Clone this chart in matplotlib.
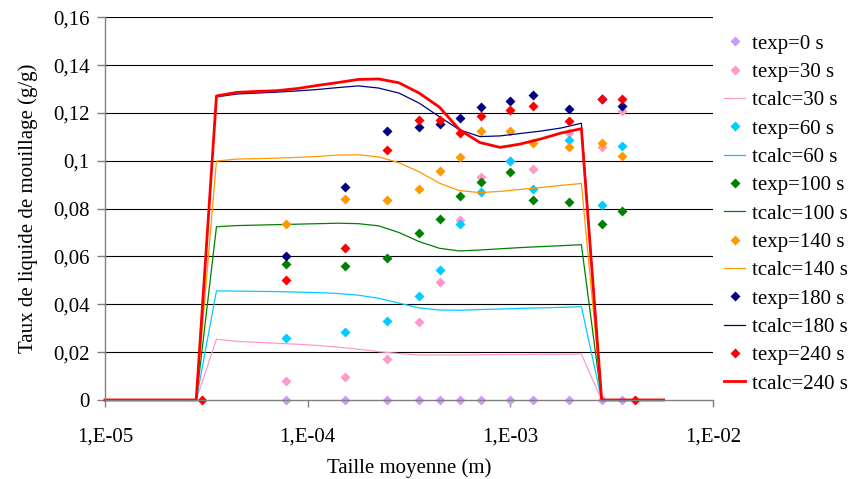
import matplotlib
matplotlib.use("Agg")
import matplotlib.pyplot as plt

plt.rcParams['font.family'] = ['Liberation Serif', 'DejaVu Serif']

# tailles mesurees (m)
x_exp = [7.8e-5, 1.52e-4, 2.47e-4, 3.56e-4, 4.51e-4, 5.65e-4,
         7.15e-4, 1.0e-3, 1.29e-3, 1.95e-3, 2.82e-3, 3.57e-3]
x_exp_240 = [3.0e-5, 7.8e-5, 1.52e-4, 2.47e-4, 3.56e-4, 4.51e-4, 5.65e-4,
             7.15e-4, 1.0e-3, 1.29e-3, 1.95e-3, 2.82e-3, 3.57e-3, 4.13e-3]

texp_0 = [0, 0, 0, 0, 0, 0, 0, 0, 0, 0, 0, 0]
texp_30 = [0.0081, 0.0097, 0.0170, 0.0326, 0.0493, 0.0752, 0.0933, 0.1000, 0.0964, 0.1117, 0.1056, 0.1209]
texp_60 = [0.0258, 0.0283, 0.0331, 0.0435, 0.0543, 0.0736, 0.0868, 0.0999, 0.0882, 0.1087, 0.0814, 0.1063]
texp_100 = [0.0567, 0.0561, 0.0592, 0.0699, 0.0755, 0.0854, 0.0913, 0.0954, 0.0836, 0.0829, 0.0736, 0.0791]
texp_140 = [0.0736, 0.0839, 0.0835, 0.0883, 0.0958, 0.1017, 0.1123, 0.1126, 0.1076, 0.1059, 0.1073, 0.1021]
texp_180 = [0.0602, 0.0889, 0.1126, 0.1142, 0.1154, 0.1179, 0.1226, 0.1251, 0.1276, 0.1218, 0.1258, 0.1229]
texp_240 = [0, 0.0502, 0.0634, 0.1044, 0.1170, 0.1170, 0.1115, 0.1188, 0.1212, 0.1229, 0.1168, 0.1258, 0.1258, 0]

# grille du calcul
x_calc = [1e-5, 2.82e-5, 3.55e-5, 4.47e-5, 5.62e-5, 7.08e-5, 8.91e-5, 1.12e-4,
          1.41e-4, 1.78e-4, 2.24e-4, 2.82e-4, 3.55e-4, 4.47e-4, 5.62e-4, 7.08e-4,
          8.91e-4, 1.12e-3, 1.41e-3, 1.78e-3, 2.24e-3, 2.82e-3, 5.7e-3]

tcalc_30 = [0, 0, 0.0254, 0.0245, 0.0241, 0.0237, 0.0233, 0.0228, 0.0221, 0.0212, 0.0202,
            0.0194, 0.0188, 0.0188, 0.0188, 0.0189, 0.0190, 0.0190, 0.0191, 0.0191, 0.0192, 0, 0]
tcalc_60 = [0, 0, 0.0456, 0.0455, 0.0454, 0.0453, 0.0451, 0.0449, 0.0445, 0.0438, 0.0425,
            0.0405, 0.0385, 0.0376, 0.0375, 0.0378, 0.0380, 0.0383, 0.0385, 0.0387, 0.0390, 0, 0]
tcalc_100 = [0, 0, 0.0724, 0.0729, 0.0731, 0.0733, 0.0735, 0.0737, 0.0739, 0.0737, 0.0728,
             0.0700, 0.0662, 0.0634, 0.0623, 0.0627, 0.0632, 0.0637, 0.0641, 0.0645, 0.0649, 0, 0]
tcalc_140 = [0, 0, 0.0999, 0.1007, 0.1009, 0.1011, 0.1014, 0.1018, 0.1024, 0.1025, 0.1016,
             0.0992, 0.0954, 0.0906, 0.0875, 0.0867, 0.0872, 0.0880, 0.0888, 0.0897, 0.0905, 0, 0]
tcalc_180 = [0, 0, 0.1267, 0.1279, 0.1283, 0.1287, 0.1292, 0.1298, 0.1306, 0.1313, 0.1304,
             0.1283, 0.1241, 0.1184, 0.1129, 0.1101, 0.1104, 0.1114, 0.1124, 0.1137, 0.1157, 0, 0]
tcalc_240 = [0, 0, 0.1271, 0.1286, 0.1290, 0.1293, 0.1302, 0.1315, 0.1327, 0.1340, 0.1342,
             0.1326, 0.1283, 0.1224, 0.1129, 0.1076, 0.1056, 0.1070, 0.1091, 0.1116, 0.1134, 0, 0]

y_ticks = [0, 0.02, 0.04, 0.06, 0.08, 0.10, 0.12, 0.14, 0.16]
y_labels = ['0', '0,02', '0,04', '0,06', '0,08', '0,1', '0,12', '0,14', '0,16']
x_ticks = [1e-5, 1e-4, 1e-3, 1e-2]
x_labels = ['1,E-05', '1,E-04', '1,E-03', '1,E-02']

fig = plt.figure(figsize=(8.53, 4.79), dpi=100)
ax = fig.add_axes([0.123, 0.165, 0.713, 0.799])

for yt in y_ticks[1:]:
    ax.axhline(yt, color='black', lw=0.8, zorder=0)

ms = 5.2
def pts(x, y, c, lab):
    ax.plot(x, y, ls='none', marker='D', ms=ms, mec='none', color=c, label=lab, clip_on=False)

def line(y, c, lab, lw=0.9):
    ax.plot(x_calc, y, color=c, lw=lw, label=lab, clip_on=False)

pts(x_exp, texp_0, '#CC99FF', 'texp=0 s')
pts(x_exp, texp_30, '#FF99CC', 'texp=30 s')
line(tcalc_30, '#FF99CC', 'tcalc=30 s')
pts(x_exp, texp_60, '#00CCFF', 'texp=60 s')
line(tcalc_60, '#00CCFF', 'tcalc=60 s')
pts(x_exp, texp_100, '#008000', 'texp=100 s')
line(tcalc_100, '#008000', 'tcalc=100 s')
pts(x_exp, texp_140, '#FF9900', 'texp=140 s')
line(tcalc_140, '#FF9900', 'tcalc=140 s')
pts(x_exp, texp_180, '#000080', 'texp=180 s')
line(tcalc_180, '#000080', 'tcalc=180 s')
pts(x_exp_240, texp_240, '#FF0000', 'texp=240 s')
line(tcalc_240, '#FF0000', 'tcalc=240 s', lw=2.0)

ax.set_xscale('log')
ax.set_xlim(1e-5, 1e-2)
ax.set_ylim(0, 0.16)
ax.set_xticks(x_ticks)
ax.set_xticklabels(x_labels)
ax.minorticks_off()
ax.set_yticks(y_ticks)
ax.set_yticklabels(y_labels)

for s in ['top', 'right']:
    ax.spines[s].set_visible(False)
for s in ['left', 'bottom']:
    ax.spines[s].set_color('#808080')
    ax.spines[s].set_linewidth(1.0)

ax.tick_params(axis='y', length=6, width=1, color='#808080', labelsize=15, pad=5)
ax.tick_params(axis='x', length=5, width=1, color='#808080', labelsize=15, pad=15)

ax.set_xlabel('Taille moyenne (m)', fontsize=15, labelpad=8)
ax.set_ylabel('Taux de liquide de mouillage (g/g)', fontsize=15, labelpad=11)

fig.legend(loc='upper left', bbox_to_anchor=(0.849, 0.929), frameon=False,
           fontsize=15, handlelength=1.0, handletextpad=0.33, labelspacing=0.42,
           borderaxespad=0, borderpad=0)

fig.savefig('out.png', dpi=100)
